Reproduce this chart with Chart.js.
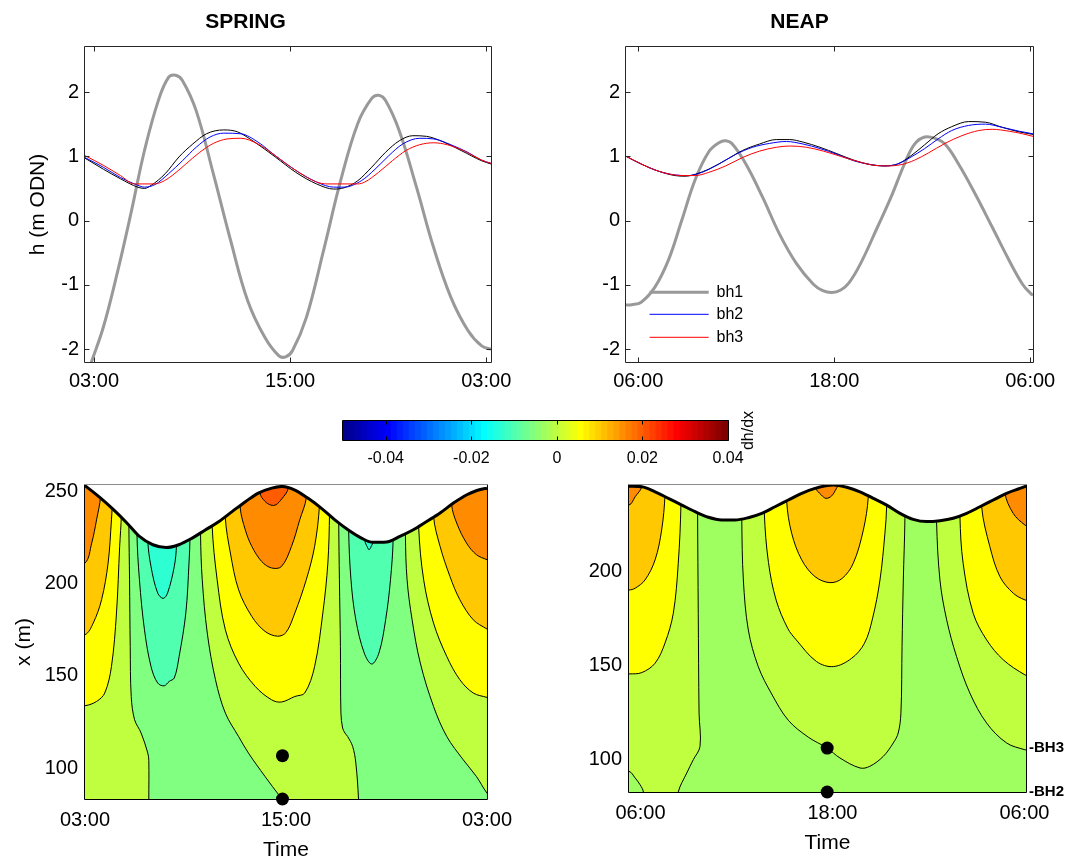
<!DOCTYPE html>
<html lang="en">
<head>
<meta charset="utf-8">
<title>Spring / neap heads and dh/dx</title>
<script src="https://cdn.jsdelivr.net/npm/chart.js@4.4.1/dist/chart.umd.min.js"></script>
<style>
  html, body { margin: 0; padding: 0; background: #fff; overflow: hidden; }
  body { position: relative; width: 1069px; height: 863px; }
  canvas { position: absolute; }
</style>
</head>
<body>
<canvas id="springTop" width="576" height="400" style="left:0px;top:0px"></canvas>
<canvas id="neapTop" width="527" height="400" style="left:566px;top:0px"></canvas>
<canvas id="colourBar" width="470" height="80" style="left:300px;top:400px"></canvas>
<canvas id="springMap" width="521" height="398" style="left:0px;top:465px"></canvas>
<canvas id="neapMap" width="502" height="398" style="left:569px;top:465px"></canvas>
<script>
// ---- time axes: hours after the first labelled tick
const springTimeTicks = [0, 12, 24];
const springTimeLabels = ['03:00', '15:00', '03:00'];
const neapTimeTicks = [0, 12, 24];
const neapTimeLabels = ['06:00', '18:00', '06:00'];

// ---- heads, [hours, m ODN]
const headTicks = [-2, -1, 0, 1, 2];
const headLabels = ['-2', '-1', '0', '1', '2'];

const springBh1 = [[-0.46,-2.44],[-0.17,-2.21],[0.57,-1.66],[1.41,-0.83],[2.25,0.10],[3.09,1.09],[3.94,1.87],[4.57,2.23],[4.99,2.26],[5.41,2.18],[6.25,1.71],[7.30,0.73],[8.36,-0.31],[9.41,-1.25],[10.46,-1.82],[11.30,-2.10],[11.72,-2.12],[12.15,-2.02],[12.99,-1.51],[14.04,-0.47],[15.09,0.62],[16.14,1.51],[16.99,1.90],[17.41,1.95],[17.83,1.87],[18.67,1.40],[19.73,0.52],[20.78,-0.42],[21.83,-1.19],[22.88,-1.71],[23.72,-1.95],[24.29,-2.00]];
const springBh0 = [[-0.55,0.97],[0.57,0.80],[1.62,0.65],[2.67,0.52],[3.09,0.50],[3.51,0.55],[4.36,0.73],[5.20,0.99],[6.04,1.19],[6.88,1.35],[7.94,1.41],[8.78,1.38],[9.83,1.22],[11.09,0.99],[12.35,0.75],[13.62,0.57],[14.67,0.49],[15.30,0.51],[16.14,0.62],[16.99,0.83],[17.83,1.06],[18.67,1.24],[19.51,1.32],[20.35,1.31],[21.41,1.22],[22.46,1.09],[23.72,0.93],[24.29,0.88]];
const springBh2 = [[-0.55,0.98],[0.57,0.83],[1.62,0.67],[2.67,0.55],[3.09,0.52],[3.73,0.56],[4.57,0.73],[5.41,0.93],[6.25,1.14],[7.10,1.30],[7.94,1.36],[8.99,1.35],[10.04,1.22],[11.09,1.01],[12.35,0.78],[13.62,0.60],[14.67,0.52],[15.30,0.52],[16.36,0.62],[17.20,0.80],[18.04,1.01],[18.88,1.19],[19.93,1.28],[20.78,1.27],[21.83,1.18],[22.88,1.06],[23.72,0.94],[24.29,0.89]];
const springBh3 = [[-0.55,1.01],[0.57,0.86],[1.62,0.70],[2.46,0.57],[3.73,0.57],[4.15,0.60],[4.78,0.70],[5.62,0.88],[6.46,1.06],[7.30,1.20],[8.15,1.27],[8.99,1.28],[10.04,1.19],[11.09,1.01],[12.35,0.78],[13.62,0.60],[14.25,0.57],[16.14,0.57],[16.57,0.60],[17.41,0.75],[18.25,0.93],[19.09,1.09],[19.93,1.18],[20.78,1.21],[21.61,1.18],[22.67,1.08],[23.72,0.94],[24.29,0.89]];

const neapBh1 = [[-0.75,-1.315],[-0.40,-1.31],[0.18,-1.27],[1.01,-1.04],[1.84,-0.62],[2.66,0.00],[3.49,0.64],[4.32,1.07],[4.94,1.21],[5.35,1.24],[5.76,1.19],[6.59,0.88],[7.62,0.36],[8.65,-0.21],[9.69,-0.67],[10.72,-0.99],[11.30,-1.09],[11.86,-1.12],[12.40,-1.08],[12.90,-0.97],[13.61,-0.67],[14.65,-0.10],[15.47,0.36],[16.30,0.88],[16.92,1.19],[17.54,1.30],[18.16,1.28],[18.78,1.19],[19.61,0.88],[20.64,0.41],[21.67,-0.10],[22.71,-0.62],[23.53,-0.99],[24.05,-1.14],[24.17,-1.16]];
const neapBh0 = [[-0.75,1.00],[0.18,0.88],[1.22,0.77],[2.25,0.70],[2.87,0.69],[3.49,0.72],[4.32,0.80],[5.35,0.94],[6.38,1.09],[7.42,1.19],[8.45,1.26],[9.28,1.26],[10.10,1.22],[11.13,1.14],[12.17,1.04],[13.20,0.94],[14.23,0.87],[15.06,0.85],[15.88,0.88],[16.71,1.01],[17.54,1.18],[18.36,1.35],[19.19,1.46],[20.23,1.54],[21.26,1.53],[22.29,1.45],[23.32,1.38],[24.17,1.34]];
const neapBh2 = [[-0.75,1.00],[0.18,0.88],[1.22,0.77],[2.25,0.71],[3.07,0.70],[3.90,0.75],[4.94,0.88],[5.97,1.03],[7.00,1.14],[8.03,1.20],[9.07,1.23],[10.10,1.19],[11.13,1.12],[12.17,1.03],[13.20,0.93],[14.23,0.87],[15.06,0.85],[15.88,0.88],[16.71,0.99],[17.54,1.12],[18.36,1.27],[19.19,1.40],[20.23,1.48],[21.26,1.50],[22.29,1.45],[23.32,1.39],[24.17,1.35]];
const neapBh3 = [[-0.75,1.00],[0.18,0.88],[1.22,0.77],[2.66,0.70],[3.49,0.70],[4.32,0.75],[5.35,0.85],[6.38,0.98],[7.42,1.08],[8.45,1.14],[9.28,1.16],[10.31,1.14],[11.34,1.08],[12.38,1.00],[13.41,0.92],[14.44,0.86],[15.27,0.85],[16.09,0.87],[16.92,0.94],[17.75,1.05],[18.78,1.20],[19.81,1.32],[20.84,1.40],[21.67,1.42],[22.71,1.39],[23.53,1.35],[24.17,1.31]];

// ---- colour bar for dh/dx
const cbarRange = [-0.05, 0.04];
const cbarTicks = [-0.04, -0.02, 0, 0.02, 0.04];
const cbarLabels = ['-0.04', '-0.02', '0', '0.02', '0.04'];
const cbarSteps = 64;

// ---- spring dh/dx map, [hours, x (m)]
const spXTicks = [100, 150, 200, 250];
const spXLabels = ['100', '150', '200', '250'];
const spDotTime = 11.79;
const spDotX = [106.7, 83.2];

const spSurface = [[-0.3,255],[0,253.1],[0.9,246.6],[1.7,240.1],[2.5,232.9],[3.25,225.6],[4.05,221.1],[4.85,219.6],[5.6,221.1],[6.4,224.7],[7.2,229.2],[8.0,233.7],[8.8,239.2],[9.6,244.6],[10.35,249.1],[11.15,251.8],[11.75,252.7],[12.5,250.9],[13.3,246.4],[14.1,241.0],[14.9,234.7],[15.7,229.2],[16.5,224.7],[17.2,222.4],[18.0,222.6],[18.8,225.6],[19.6,229.2],[20.4,233.7],[21.2,238.3],[22.0,243.7],[22.8,248.2],[23.4,250.5],[24,251.8],[24.3,252.3]];
const spOrangeL = [[0.93,247.3],[0.69,234.6],[0.40,222.0],[0,211.2]];
const spGoldL = [[1.62,241.9],[1.58,234.6],[1.38,211.2],[0.99,191.3],[0.49,178.6],[0,172.3]];
const spYellowL = [[2.17,237.4],[2.07,220.2],[1.88,184.1],[1.58,155.1],[1.18,140.7],[0.69,136.1],[0,133.8]];
const spLimeL = [[2.62,231.9],[2.66,202.1],[2.70,165.9],[2.76,138.8],[2.96,126.2],[3.35,119.0],[3.75,108.1],[3.81,104],[3.81,83.2]];
const spAquaU1 = [[3.10,227.4],[3.25,202.1],[3.55,175.0],[3.94,155.1],[4.34,146.1],[4.73,144.6],[5.03,147.0],[5.33,148.8],[5.62,160.5],[6.02,184.1],[6.21,211.2],[6.27,225.6]];
const spCyanU1 = [[3.75,223.5],[3.94,209.3],[4.34,194.9],[4.67,192.0],[4.93,194.9],[5.33,209.3],[5.46,221]];
const spLimeM1 = [[6.90,226.5],[7.00,202.1],[7.30,173.2],[7.79,147.9],[8.38,129.8],[9.17,117.1],[9.76,108.1],[10.75,95.4],[11.64,84.6],[11.79,83.2]];
const spYellowU = [[7.59,231.5],[7.89,202.1],[8.38,175.0],[9.17,156.9],[10.16,144.3],[11.14,137.0],[11.73,135.8],[12.53,138.8],[13.12,140.7],[13.71,155.1],[14.20,184.1],[14.50,211.2],[14.60,238.5]];
const spGoldU = [[8.38,235.6],[8.68,216.6],[9.17,196.7],[9.96,182.2],[10.75,174.1],[11.5,171.5],[12.0,173.5],[12.53,184.1],[13.21,202.1],[13.71,220.2],[14.00,242.5]];
const spOrangeU = [[9.27,241.0],[9.57,229.2],[9.96,220.2],[10.55,212.0],[11.14,208.5],[11.73,209.3],[12.33,220.2],[12.82,234.6],[13.21,246.4]];
const spRedU = [[10.45,249],[10.75,244.6],[11.1,242.6],[11.4,242.8],[11.75,246],[12.13,251.5]];
const spLimeM2 = [[15.15,232.5],[15.19,202.1],[15.25,165.9],[15.28,129.8],[15.38,121.7],[15.52,119.0],[15.68,117.1],[15.98,111.7],[16.17,102.7],[16.33,83.2]];
const spAquaU2 = [[15.74,229.2],[15.88,202.1],[16.17,180.4],[16.67,162.4],[17.12,156.4],[17.55,162.4],[17.95,180.4],[18.24,202.1],[18.40,224.5]];
const spCyanU2 = [[16.72,223],[16.85,220],[16.96,218.4],[17.08,220],[17.2,223]];
const spLimeR = [[19.13,226.5],[19.23,202.1],[19.53,180.4],[20.02,156.9],[20.81,133.4],[21.60,117.1],[22.58,104.5],[23.37,95.4],[24.0,86.4],[24.3,84]];
const spYellowR = [[19.92,231.0],[20.22,202.1],[20.81,178.6],[21.60,160.5],[22.38,147.9],[23.18,140.7],[24.0,138.3],[24.3,137.5]];
const spGoldR = [[20.81,236.4],[21.20,220.2],[21.79,203.9],[22.38,191.3],[23.18,180.4],[24.0,175.4],[24.3,174]];
const spOrangeR = [[21.89,242.8],[22.19,232.9],[22.78,222.0],[23.37,215.7],[24.0,213.0],[24.3,212]];

// ---- neap dh/dx map
const npXTicks = [100, 150, 200];
const npXLabels = ['100', '150', '200'];
const npDotTime = 11.67;
const npDotX = [106.2, 82.8];
const npBhLabels = ['-BH3', '-BH2'];

const npSurface = [[-0.9,245.8],[-0.72,245.7],[0.08,245.4],[0.91,242.7],[1.74,239.2],[2.58,235.6],[3.41,232.1],[4.24,229.1],[5.08,227.7],[5.91,227.7],[6.74,228.9],[7.58,231.2],[8.41,234.7],[9.24,238.3],[10.08,241.9],[10.91,244.5],[12.05,246.3],[12.89,245.1],[13.72,242.7],[14.55,239.2],[15.39,235.6],[16.22,231.2],[17.05,228.0],[17.89,226.8],[18.72,227.3],[19.55,228.6],[20.39,231.2],[21.22,234.7],[22.05,238.3],[22.89,241.9],[23.72,244.5],[24.11,245.7],[24.3,246.3]];
const npOrangeL = [[0.08,245.6],[-0.34,240.0],[-0.72,235.6]];
const npGoldL = [[1.53,241.0],[1.32,222.3],[0.91,206.4],[0.28,195.7],[-0.34,191.3],[-0.72,190.4]];
const npYellowL = [[2.53,236.2],[2.36,204.6],[2.05,178.0],[1.53,162.1],[0.91,151.4],[0.08,146.4],[-0.72,145.7]];
const npLimeL = [[3.57,231.8],[3.61,178.0],[3.66,124.8],[3.72,107.1],[3.30,100.0],[2.89,92.9],[2.36,82.8]];
const npCorner = [[-0.72,93.8],[-0.34,90.3],[-0.03,86.7],[0.18,82.8]];
const npLimeU = [[6.33,228.5],[6.43,195.7],[6.74,169.1],[7.36,149.6],[8.2,135],[9.24,121],[10.49,112],[11.67,106.2],[12.47,100.9],[13.72,95.6],[14.34,96.5],[15.18,101.8],[15.8,108.9],[16.11,114.2],[16.28,124.8],[16.35,160.3],[16.43,195.7],[16.53,228.5]];
const npYellowU = [[7.74,231.5],[8.0,205],[8.48,185],[9.2,170],[9.74,163.8],[11.0,152.3],[12.06,149.6],[13.2,154],[14.0,162],[14.5,175],[14.97,195.7],[15.28,220.6],[15.39,235.5]];
const npGoldU = [[9.14,237.5],[9.45,220.6],[10.08,206.4],[10.91,197.5],[11.84,194.3],[12.6,196.5],[13.3,204.6],[13.93,222.3],[14.24,240]];
const npOrangeU = [[10.95,245],[11.3,241],[11.6,239.2],[11.95,240.5],[12.25,244.5],[12.4,247]];
const npLimeR = [[18.51,226.8],[18.72,195.7],[19.14,174.5],[19.76,154.9],[20.59,135.5],[21.64,119.5],[22.89,108.9],[24.03,105.3],[24.3,105]];
const npYellowR = [[19.97,229.5],[20.17,204.6],[20.80,178.0],[21.64,163.8],[22.68,153.2],[24.03,145.2],[24.3,145]];
const npGoldR = [[21.33,234.5],[21.84,213.5],[22.47,197.5],[23.30,188.7],[24.03,185.1],[24.3,185]];
const npOrangeR = [[22.78,242.2],[23.30,231.2],[24.03,225.0],[24.3,224.5]];

// fill colours of the contour bands
const spColours = {cyan: '#2dffd2', aqua: '#50ffb0', green: '#80ff80', lime: '#bfff40', yellow: '#ffff00', gold: '#ffc800', orange: '#ff8c00', red: '#ff5c00'};
const npColours = {green: '#a0ff60', lime: '#bfff40', yellow: '#ffff00', gold: '#ffc800', orange: '#ff8c00'};

Chart.defaults.font.family = '"Liberation Sans", Arial, Helvetica, sans-serif';
Chart.defaults.font.size = 20;
Chart.defaults.color = '#000';
Chart.defaults.animation = false;
Chart.defaults.events = [];
Chart.defaults.plugins.legend.display = false;
Chart.defaults.plugins.tooltip.enabled = false;
Chart.defaults.elements.point.radius = 0;
Chart.defaults.elements.point.hoverRadius = 0;

const pts = a => a.map(([x, y]) => ({x, y}));

// box round the plot area, with short ticks pointing inwards
const frame = {
  id: 'frame',
  afterDatasetsDraw(chart, _args, o) {
    const {ctx, chartArea: a} = chart;
    const x = chart.scales.x, y = chart.scales.y;
    const L = a.left - 0.5, R = a.right + 0.5, T = a.top - 0.5, B = a.bottom + 0.5;
    ctx.save();
    ctx.lineWidth = 1;
    ctx.strokeStyle = o.color;
    ctx.beginPath();
    if (o.len) {
      (o.xTicks || []).forEach(v => {
        const p = Math.round(x.getPixelForValue(v)) + 0.5;
        ctx.moveTo(p, B); ctx.lineTo(p, B - o.len);
        ctx.moveTo(p, T); ctx.lineTo(p, T + o.len);
      });
      (o.yTicks || []).forEach(v => {
        const p = Math.round(y.getPixelForValue(v)) + 0.5;
        ctx.moveTo(L, p); ctx.lineTo(L + o.len, p);
        ctx.moveTo(R, p); ctx.lineTo(R - o.len, p);
      });
    }
    ctx.moveTo(L, T); ctx.lineTo(L, B); ctx.lineTo(R, B); ctx.lineTo(R, T);
    ctx.stroke();
    ctx.strokeStyle = o.topColor || o.color;
    ctx.beginPath(); ctx.moveTo(L, T); ctx.lineTo(R, T); ctx.stroke();
    ctx.restore();
  }
};

// small key drawn inside the plot area, bottom left
const lineKey = {
  id: 'lineKey',
  afterDatasetsDraw(chart, _args, o) {
    if (!o.items) return;
    const {ctx, chartArea: a} = chart;
    ctx.save();
    ctx.font = '16px "Liberation Sans", Arial, sans-serif';
    ctx.textBaseline = 'middle';
    o.items.forEach((idx, i) => {
      const ds = chart.data.datasets[idx];
      const y = a.bottom - o.rows[i];
      ctx.strokeStyle = ds.borderColor;
      ctx.lineWidth = ds.borderWidth;
      ctx.beginPath(); ctx.moveTo(a.left + o.x0, y); ctx.lineTo(a.left + o.x1, y); ctx.stroke();
      ctx.fillStyle = '#000';
      ctx.fillText(ds.label, a.left + o.tx, y);
    });
    ctx.restore();
  }
};

// rotated caption to the right of the colour bar
const sideLabel = {
  id: 'sideLabel',
  afterDraw(chart, _args, o) {
    if (!o.text) return;
    const {ctx, chartArea: a} = chart;
    ctx.save();
    ctx.translate(a.right + o.dx, (a.top + a.bottom) / 2);
    ctx.rotate(-Math.PI / 2);
    ctx.font = o.font;
    ctx.fillStyle = '#000';
    ctx.textAlign = 'center';
    ctx.textBaseline = 'middle';
    ctx.fillText(o.text, 0, 0);
    ctx.restore();
  }
};

function axis(o) {
  const a = {
    type: 'linear', min: o.min, max: o.max, offset: false,
    grid: {display: false, drawTicks: false},
    border: {display: false},
    afterBuildTicks: s => { s.ticks = o.ticks.map(v => ({value: v})); },
    afterFit: s => { if (o.height) s.height = o.height; else s.width = o.width; },
    ticks: {autoSkip: false, maxRotation: 0, padding: o.pad, font: o.font || {size: 20}, callback: (v, i) => o.labels[i]}
  };
  if (o.position) { a.position = o.position; a.axis = 'y'; }
  if (o.title) a.title = {display: true, text: o.title, font: {size: 21}, padding: o.titlePad};
  return a;
}

// thin head lines keep their flat stretches; the thick one is a plain spline
function series(data, colour, width, label) {
  const d = {label, data: pts(data), borderColor: colour, borderWidth: width, fill: false};
  if (width > 1) d.tension = 0.4; else d.cubicInterpolationMode = 'monotone';
  return d;
}

// first dataset in the list is painted first
function inOrder(datasets) {
  datasets.forEach((d, i) => { d.order = -i; });
  return datasets;
}

// closed outlines for the filled bands; corners sit outside the plot area
const TOP = 262, BOT = 74;
const last = l => l[l.length - 1];
function closed(...parts) { const p = [].concat(...parts); p.push(p[0]); return p; }
const cup = l => closed([[l[0][0], TOP]], l, [[last(l)[0], TOP]]);
const toEdge = (l, e) => closed([[l[0][0], TOP]], l, [[e, last(l)[1]], [e, TOP]]);
const leftOfFoot = (l, e) => closed([[l[0][0], TOP]], l, [[last(l)[0], BOT], [e, BOT], [e, TOP]]);
const between = (a, b) => closed([[a[0][0], TOP]], a, [[last(a)[0], BOT], [last(b)[0], BOT]], b.slice().reverse(), [[b[0][0], TOP]]);
const everywhere = (l, r) => closed([[l, BOT], [r, BOT], [r, TOP], [l, TOP]]);

function band(outline, colour, width) {
  return {data: pts(outline), fill: 'shape', backgroundColor: colour, borderColor: '#000',
    borderWidth: width === undefined ? 1 : width, tension: 0.35, capBezierPoints: false};
}
function surface(line) {
  return {data: pts(line), fill: 'end', backgroundColor: '#fff', borderColor: '#000', borderWidth: 3, cubicInterpolationMode: 'monotone'};
}
function boreholes(t, xs) {
  return {data: xs.map(v => ({x: t, y: v})), showLine: false, pointRadius: 6.5, pointBackgroundColor: '#000', pointBorderWidth: 0, clip: false};
}

const base = {responsive: false, devicePixelRatio: 1, animation: false, events: []};

// ---- SPRING heads
new Chart(document.getElementById('springTop'), {
  type: 'line',
  data: {datasets: inOrder([
    series(springBh1, '#999999', 3, 'bh1'),
    series(springBh0, '#000000', 1, ''),
    series(springBh2, '#0000ff', 1, 'bh2'),
    series(springBh3, '#ff0000', 1, 'bh3')
  ])},
  options: Object.assign({}, base, {
    layout: {padding: {left: 0, right: 85, top: 0, bottom: 0}},
    plugins: {
      title: {display: true, text: 'SPRING', font: {size: 21, weight: 'bold'}, padding: {top: 9.4, bottom: 12.4}},
      frame: {color: '#262626', len: 5, xTicks: springTimeTicks, yTicks: headTicks}
    },
    scales: {
      x: axis({min: -0.55, max: 24.29, ticks: springTimeTicks, labels: springTimeLabels, height: 38, pad: 7.7}),
      y: axis({min: -2.2, max: 2.7, ticks: headTicks, labels: headLabels, width: 85, pad: 6, title: 'h (m ODN)', titlePad: {top: 25.4, bottom: 0}})
    }
  }),
  plugins: [frame]
});

// ---- NEAP heads
new Chart(document.getElementById('neapTop'), {
  type: 'line',
  data: {datasets: inOrder([
    series(neapBh1, '#999999', 3, 'bh1'),
    series(neapBh0, '#000000', 1, ''),
    series(neapBh2, '#0000ff', 1, 'bh2'),
    series(neapBh3, '#ff0000', 1, 'bh3')
  ])},
  options: Object.assign({}, base, {
    layout: {padding: {left: 0, right: 60, top: 0, bottom: 0}},
    plugins: {
      title: {display: true, text: 'NEAP', font: {size: 21, weight: 'bold'}, padding: {top: 9.4, bottom: 12.4}},
      frame: {color: '#262626', len: 5, xTicks: neapTimeTicks, yTicks: headTicks},
      lineKey: {items: [0, 2, 3], rows: [69.7, 47.7, 24.7], x0: 23.6, x1: 82.7, tx: 90.5}
    },
    scales: {
      x: axis({min: -0.75, max: 24.17, ticks: neapTimeTicks, labels: neapTimeLabels, height: 38, pad: 7.7}),
      y: axis({min: -2.2, max: 2.7, ticks: headTicks, labels: headLabels, width: 60, pad: 6})
    }
  }),
  plugins: [frame, lineKey]
});

// ---- colour bar (jet, 64 steps)
function jet(k) {
  const c = v => Math.round(255 * Math.min(1, Math.max(0, v)));
  const r = k <= 24 ? 0 : k <= 40 ? (k - 24) / 16 : k <= 56 ? 1 : 1 - (k - 56) / 16;
  const g = k <= 8 ? 0 : k <= 24 ? (k - 8) / 16 : k <= 40 ? 1 : k <= 56 ? 1 - (k - 40) / 16 : 0;
  const b = k <= 8 ? 0.5 + k / 16 : k <= 24 ? 1 : k <= 40 ? 1 - (k - 24) / 16 : 0;
  return `rgb(${c(r)},${c(g)},${c(b)})`;
}
const steps = Array.from({length: cbarSteps}, (_, i) => i + 1);
const stepWidth = (cbarRange[1] - cbarRange[0]) / cbarSteps;

new Chart(document.getElementById('colourBar'), {
  type: 'bar',
  data: {datasets: [{
    data: steps.map(k => ({x: cbarRange[0] + (k - 0.5) * stepWidth, y: 1})),
    backgroundColor: steps.map(jet),
    borderWidth: 0, barPercentage: 1, categoryPercentage: 1
  }]},
  options: Object.assign({}, base, {
    layout: {padding: {left: 43, right: 42, top: 21, bottom: 0}},
    plugins: {
      frame: {color: '#000', len: 4, xTicks: cbarTicks},
      sideLabel: {text: 'dh/dx', dx: 21, font: '16px "Liberation Sans", Arial, sans-serif'}
    },
    scales: {
      x: axis({min: cbarRange[0], max: cbarRange[1], ticks: cbarTicks, labels: cbarLabels, height: 40, pad: 9.1, font: {size: 16}}),
      y: {display: false, min: 0, max: 1}
    }
  }),
  plugins: [frame, sideLabel]
});

// ---- SPRING dh/dx map
const sp = spColours;
new Chart(document.getElementById('springMap'), {
  type: 'line',
  data: {datasets: inOrder([
    band(everywhere(-2, 26), sp.green, 0),
    band(leftOfFoot(spLimeL, -1), sp.lime),
    band(between(spLimeM1, spLimeM2), sp.lime),
    band(toEdge(spLimeR, 25), sp.lime),
    band(toEdge(spYellowL, -1), sp.yellow),
    band(cup(spYellowU), sp.yellow),
    band(toEdge(spYellowR, 25), sp.yellow),
    band(toEdge(spGoldL, -1), sp.gold),
    band(cup(spGoldU), sp.gold),
    band(toEdge(spGoldR, 25), sp.gold),
    band(toEdge(spOrangeL, -1), sp.orange),
    band(cup(spOrangeU), sp.orange),
    band(toEdge(spOrangeR, 25), sp.orange),
    band(cup(spRedU), sp.red),
    band(cup(spAquaU1), sp.aqua),
    band(cup(spAquaU2), sp.aqua),
    band(cup(spCyanU1), sp.cyan),
    band(cup(spCyanU2), sp.cyan),
    surface(spSurface),
    boreholes(spDotTime, spDotX)
  ])},
  options: Object.assign({}, base, {
    layout: {padding: {left: 0, right: 30, top: 20, bottom: 0}},
    plugins: {frame: {color: '#000', topColor: '#8c8c8c', len: 0}},
    scales: {
      x: axis({min: 0, max: 24, ticks: springTimeTicks, labels: springTimeLabels, height: 64, pad: 9, title: 'Time', titlePad: {top: 0, bottom: 0.4}}),
      y: axis({min: 83.2, max: 253.5, ticks: spXTicks, labels: spXLabels, width: 85, pad: 7, title: 'x (m)', titlePad: {top: 11.5, bottom: 0}})
    }
  }),
  plugins: [frame]
});

// ---- NEAP dh/dx map
const np = npColours;
new Chart(document.getElementById('neapMap'), {
  type: 'line',
  data: {datasets: inOrder([
    band(everywhere(-3, 27), np.green, 0),
    band(leftOfFoot(npLimeL, -2), np.lime),
    band(cup(npLimeU), np.lime),
    band(toEdge(npLimeR, 26), np.lime),
    band(closed([[-2, npCorner[0][1]]], npCorner, [[last(npCorner)[0], BOT], [-2, BOT]]), np.green),
    band(toEdge(npYellowL, -2), np.yellow),
    band(cup(npYellowU), np.yellow),
    band(toEdge(npYellowR, 26), np.yellow),
    band(toEdge(npGoldL, -2), np.gold),
    band(cup(npGoldU), np.gold),
    band(toEdge(npGoldR, 26), np.gold),
    band(toEdge(npOrangeL, -2), np.orange),
    band(cup(npOrangeU), np.orange),
    band(toEdge(npOrangeR, 26), np.orange),
    surface(npSurface),
    boreholes(npDotTime, npDotX)
  ])},
  options: Object.assign({}, base, {
    layout: {padding: {left: 0, right: 0, top: 20, bottom: 0}},
    plugins: {frame: {color: '#000', topColor: '#8c8c8c', len: 0}},
    scales: {
      x: axis({min: -0.72, max: 24.1, ticks: neapTimeTicks, labels: neapTimeLabels, height: 71, pad: 9.3, title: 'Time', titlePad: {top: 0, bottom: 7.1}}),
      y: axis({min: 82.8, max: 246.3, ticks: npXTicks, labels: npXLabels, width: 60, pad: 7}),
      bh: axis({min: 82.8, max: 246.3, ticks: npDotX, labels: npBhLabels, width: 45, pad: 3, position: 'right', font: {size: 15, weight: 'bold'}})
    }
  }),
  plugins: [frame]
});
</script>
</body>
</html>
